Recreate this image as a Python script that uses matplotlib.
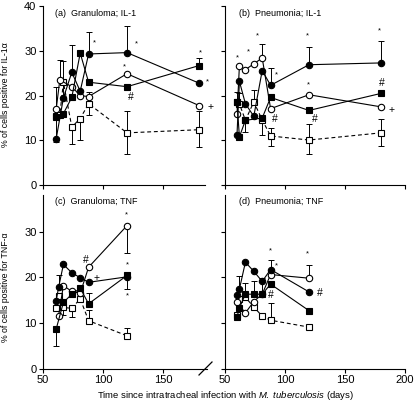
import numpy as np
import matplotlib
matplotlib.use("Agg")
import matplotlib.pyplot as plt
from matplotlib.lines import Line2D

plt.rcParams['font.family'] = ['Liberation Sans', 'DejaVu Sans']
plt.rcParams['mathtext.fontset'] = 'custom'
plt.rcParams['mathtext.rm'] = 'Liberation Sans'
plt.rcParams['mathtext.it'] = 'Liberation Sans:italic'

# ---------------- data ----------------
# (a) Granuloma; IL-1
a_fc_t = [61, 67, 74, 81, 88, 120, 180]
a_fc_v = [10.4, 19.5, 25.2, 21.0, 29.3, 29.6, 22.8]
a_fc_lo = [0.8, 0, 0, 0, 0, 0, 0]
a_fc_hi = [0, 8.3, 6.0, 0, 4.8, 6.0, 0]
a_fs_t = [61, 67, 74, 81, 88, 120, 180]
a_fs_v = [15.3, 16.0, 19.6, 29.5, 23.0, 22.0, 26.7]
a_fs_lo = [0, 0, 0, 0, 0, 0, 0]
a_fs_hi = [0, 0, 0, 0, 0, 0, 1.8]
a_oc_t = [61, 64, 74, 81, 88, 120, 180]
a_oc_v = [17.0, 23.5, 22.0, 20.0, 19.8, 24.9, 17.8]
a_oc_lo = [0, 0, 0, 0, 0, 0, 0]
a_oc_hi = [5.0, 4.5, 0, 0, 1.0, 0, 0]
a_os_t = [61, 64, 67, 74, 81, 88, 120, 180]
a_os_v = [15.5, 15.6, 23.0, 13.0, 14.9, 18.2, 11.7, 12.4]
a_os_lo = [5.5, 0, 0, 3.7, 4.9, 2.6, 4.7, 3.9]
a_os_hi = [0, 0, 0, 0, 0, 0, 4.8, 4.1]

# (b) Pneumonia; IL-1
b_fc_t = [60, 62, 67, 74, 81, 88, 120, 180]
b_fc_v = [11.3, 23.2, 18.2, 15.4, 25.6, 22.3, 26.9, 27.3]
b_fc_lo = [0, 0, 0, 0, 0, 0, 0, 0]
b_fc_hi = [0, 0, 0, 0, 0, 3.8, 3.9, 4.8]
b_fs_t = [60, 62, 67, 81, 88, 120, 180]
b_fs_v = [18.6, 10.8, 14.5, 15.0, 19.6, 16.7, 20.5]
b_fs_lo = [0, 0, 2.6, 0, 0, 0, 0]
b_fs_hi = [2.2, 0, 0, 0, 0, 0, 0]
b_oc_t = [60, 62, 67, 74, 81, 88, 120, 180]
b_oc_v = [15.8, 26.6, 25.8, 27.1, 28.4, 17.1, 20.2, 17.5]
b_oc_lo = [0, 0, 0, 0, 0, 0, 0, 0]
b_oc_hi = [0, 0, 0, 0, 3.2, 0, 0, 0]
b_os_t = [60, 62, 67, 74, 81, 88, 120, 180]
b_os_v = [18.6, 18.2, 14.5, 18.6, 14.6, 11.0, 10.1, 11.7]
b_os_lo = [0, 0, 0, 0, 3.4, 2.2, 3.1, 2.9]
b_os_hi = [0, 2.5, 0, 2.6, 0, 1.8, 3.5, 3.0]

# (c) Granuloma; TNF
c_fc_t = [61, 63, 67, 74, 81, 88, 120]
c_fc_v = [14.9, 17.8, 22.8, 21.0, 19.9, 18.9, 20.1]
c_fc_lo = [0, 0, 0, 0, 0, 0, 0]
c_fc_hi = [0, 2.7, 0, 0, 0, 0, 0]
c_fs_t = [61, 67, 74, 81, 88, 120]
c_fs_v = [8.7, 14.5, 16.3, 17.6, 14.2, 20.4]
c_fs_lo = [3.7, 0, 0, 0, 0, 3.0]
c_fs_hi = [0, 0, 0, 0, 2.3, 0]
c_oc_t = [63, 67, 74, 81, 88, 120]
c_oc_v = [11.6, 18.2, 16.9, 16.5, 22.2, 31.3]
c_oc_lo = [0, 0, 0, 0, 0, 5.9]
c_oc_hi = [0, 0, 0, 0, 0, 0]
c_os_t = [61, 63, 67, 74, 81, 88, 120]
c_os_v = [13.2, 15.9, 13.4, 13.2, 15.3, 10.5, 7.2]
c_os_lo = [0, 0, 1.6, 1.8, 0, 0, 0]
c_os_hi = [0, 0, 0, 0, 0, 2.3, 1.6]

# (d) Pneumonia; TNF
d_fc_t = [60, 62, 67, 74, 81, 88, 120]
d_fc_v = [16.2, 17.4, 23.3, 21.3, 19.1, 21.7, 16.8]
d_fc_lo = [0, 0, 0, 0, 0, 0, 0]
d_fc_hi = [0, 2.8, 0, 0, 0, 2.0, 0]
d_fs_t = [60, 62, 67, 74, 81, 88, 120]
d_fs_v = [11.3, 13.3, 16.3, 16.3, 16.3, 18.5, 12.7]
d_fs_lo = [0, 0, 0, 0, 0, 0, 0]
d_fs_hi = [0, 0, 2.4, 2.8, 3.5, 0, 0]
d_oc_t = [60, 67, 74, 81, 88, 120]
d_oc_v = [14.5, 12.2, 14.7, 16.3, 20.6, 19.8]
d_oc_lo = [0, 0, 0, 0, 0, 0]
d_oc_hi = [0, 0, 0, 0, 0, 2.9]
d_os_t = [60, 62, 67, 74, 81, 88, 120]
d_os_v = [11.8, 15.3, 15.6, 13.5, 11.5, 10.6, 9.1]
d_os_lo = [0, 0, 0, 0, 0, 0, 0]
d_os_hi = [0, 0, 0, 0, 0, 3.8, 0]

# significance annotations: (day, value, symbol)
a_notes = [(92.8, 31.7, '*'), (128, 31.6, '*'), (118, 26.4, '*'), (123, 19.8, '#'),
           (181, 29.5, '*'), (187, 23.0, '*'), (190, 17.4, '+')]
b_notes = [(60.6, 28.4, '*'), (69.4, 29.7, '*'), (76.9, 33.4, '*'), (92.5, 24.7, '*'),
           (91.7, 14.8, '#'), (118.6, 33.4, '*'), (119.4, 22.3, '*'), (125, 14.8, '#'),
           (179, 34.4, '*'), (180.6, 22.8, '#'), (189, 16.7, '+')]
c_notes = [(119.7, 33.6, '*'), (85.8, 23.7, '#'), (94.2, 19.8, '+'), (120, 22.7, '*'),
           (120, 16.0, '*')]
d_notes = [(87.8, 25.7, '*'), (93, 22.4, '*'), (87.8, 16.2, '#'), (118.6, 25.1, '*'),
           (129, 16.5, '#')]

titles = ['(a)  Granuloma; IL-1', '(b)  Pneumonia; IL-1',
          '(c)  Granuloma; TNF', '(d)  Pneumonia; TNF']
ylabel_top = '% of cells positive for IL-1\u03b1'
ylabel_bot = '% of cells positive for TNF-\u03b1'
xlabel_pre = 'Time since intratracheal infection with '

# ---------------- figure ----------------
W, H = 415, 407
fig = plt.figure(figsize=(W / 100, H / 100), dpi=100)

def rect(x0, x1, ytop, ybot):
    return [x0 / W, 1 - ybot / H, (x1 - x0) / W, (ybot - ytop) / H]

ax_a = fig.add_axes(rect(43, 205, 6, 185.3))
ax_b = fig.add_axes(rect(225, 405, 6, 185.3))
ax_c = fig.add_axes(rect(43, 207.4, 195, 368.7))
ax_d = fig.add_axes(rect(225, 405, 195, 368.7))

LW = 0.8
MS = 4.6
TFS = 8

def series(ax, t, v, lo, hi, marker, filled, ls):
    t = np.asarray(t, float); v = np.asarray(v, float)
    lo = np.asarray(lo, float); hi = np.asarray(hi, float)
    m = (lo > 0) | (hi > 0)
    if m.any():
        ax.errorbar(t[m], v[m], yerr=[lo[m], hi[m]], fmt='none', ecolor='k',
                    elinewidth=0.7, capsize=2.3, capthick=0.7, zorder=2)
    line, = ax.plot(t, v, linestyle=ls, color='k', lw=LW, marker=marker, ms=MS,
                    mfc='k' if filled else 'white', mec='k', mew=0.8, zorder=3)
    if ls == '--':
        line.set_dashes((3.5, 2.5))

def style(ax, xlim, ylim, xticks, yticks, show_xlab, show_ylab):
    ax.set_xlim(*xlim)
    ax.set_ylim(*ylim)
    for s in ['top', 'right']:
        ax.spines[s].set_visible(False)
    for s in ['left', 'bottom']:
        ax.spines[s].set_linewidth(0.8)
    ax.set_xticks(xticks)
    ax.set_yticks(yticks)
    ax.tick_params(direction='out', length=3.2, width=0.8, labelsize=TFS, pad=1.5)
    if not show_xlab:
        ax.set_xticklabels([])
    if not show_ylab:
        ax.set_yticklabels([])
    ax.patch.set_alpha(0)

panels = [
    (ax_a, (a_fc_t, a_fc_v, a_fc_lo, a_fc_hi), (a_fs_t, a_fs_v, a_fs_lo, a_fs_hi),
     (a_oc_t, a_oc_v, a_oc_lo, a_oc_hi), (a_os_t, a_os_v, a_os_lo, a_os_hi), a_notes),
    (ax_b, (b_fc_t, b_fc_v, b_fc_lo, b_fc_hi), (b_fs_t, b_fs_v, b_fs_lo, b_fs_hi),
     (b_oc_t, b_oc_v, b_oc_lo, b_oc_hi), (b_os_t, b_os_v, b_os_lo, b_os_hi), b_notes),
    (ax_c, (c_fc_t, c_fc_v, c_fc_lo, c_fc_hi), (c_fs_t, c_fs_v, c_fs_lo, c_fs_hi),
     (c_oc_t, c_oc_v, c_oc_lo, c_oc_hi), (c_os_t, c_os_v, c_os_lo, c_os_hi), c_notes),
    (ax_d, (d_fc_t, d_fc_v, d_fc_lo, d_fc_hi), (d_fs_t, d_fs_v, d_fs_lo, d_fs_hi),
     (d_oc_t, d_oc_v, d_oc_lo, d_oc_hi), (d_os_t, d_os_v, d_os_lo, d_os_hi), d_notes),
]

for ax, fc, fs, oc, os_, notes in panels:
    series(ax, *os_, 's', False, '--')
    series(ax, *oc, 'o', False, '-')
    series(ax, *fs, 's', True, '-')
    series(ax, *fc, 'o', True, '-')
    for x, y, s in notes:
        ax.text(x, y, s, ha='center', va='center',
                fontsize=5.5 if s == '*' else 7.5, clip_on=False, zorder=5)

style(ax_a, (50, 185), (0, 40), [50, 100, 150], [0, 10, 20, 30, 40], False, True)
style(ax_b, (50, 200), (0, 40), [50, 100, 150, 200], [0, 10, 20, 30, 40], False, False)
style(ax_c, (50, 187), (0, 38), [50, 100, 150], [0, 10, 20, 30], True, True)
style(ax_d, (50, 200), (0, 38), [50, 100, 150, 200], [0, 10, 20, 30], True, False)

for ax, t in zip([ax_a, ax_b, ax_c, ax_d], titles):
    ax.text(0.075, 0.985 if ax in (ax_a, ax_b) else 0.99,
            t, transform=ax.transAxes, ha='left', va='top', fontsize=6.5)

fig.text(6 / W, 1 - 95 / H, ylabel_top, rotation=90, ha='center', va='center', fontsize=6.3)
fig.text(6 / W, 1 - 287 / H, ylabel_bot, rotation=90, ha='center', va='center', fontsize=6.3)

fig.text(226 / W, 1 - 396 / H,
         xlabel_pre + r'$\mathit{M.\ tuberculosis}$' + ' (days)',
         ha='center', va='center', fontsize=6.8)

# axis break mark
fig.add_artist(Line2D([199 / W, 212 / W], [1 - 375 / H, 1 - 362 / H],
                      color='k', lw=0.9, transform=fig.transFigure))

fig.savefig('out.png', dpi=100)
